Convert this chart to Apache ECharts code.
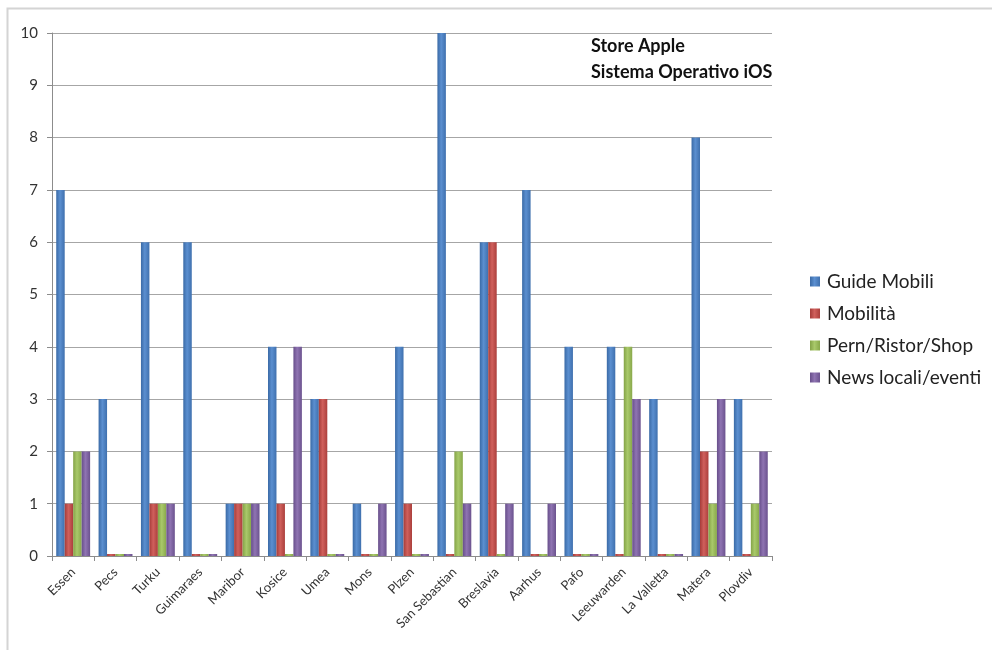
<!DOCTYPE html>
<html>
<head>
<meta charset="utf-8">
<script src="https://cdn.jsdelivr.net/npm/echarts@6/dist/echarts.min.js"></script>
<style>
  html, body { margin: 0; padding: 0; background: #fff; }
  #chart { width: 992px; height: 650px; }
</style>
</head>
<body>
<div id="chart"></div>
<script>
// Apps per city, iOS store
const cities = ['Essen', 'Pecs', 'Turku', 'Guimaraes', 'Maribor', 'Kosice', 'Umea', 'Mons', 'Plzen',
  'San Sebastian', 'Breslavia', 'Aarhus', 'Pafo', 'Leeuwarden', 'La Valletta', 'Matera', 'Plovdiv'];
const guideMobili   = [7, 3, 6, 6, 1, 4, 3, 1, 4, 10, 6, 7, 4, 4, 3, 8, 3];
const mobilita      = [1, 0, 1, 0, 1, 1, 3, 0, 1, 0, 6, 0, 0, 0, 0, 2, 0];
const pernRistor    = [2, 0, 1, 0, 1, 0, 0, 0, 0, 2, 0, 0, 0, 4, 0, 1, 1];
const newsLocali    = [2, 0, 1, 0, 1, 4, 0, 1, 0, 1, 1, 1, 0, 3, 0, 3, 2];
const seriesNames = ['Guide Mobili', 'Mobilità', 'Pern/Ristor/Shop', 'News locali/eventi'];
const yTicks = [0, 1, 2, 3, 4, 5, 6, 7, 8, 9, 10];

const palette = [
  ['#3a6aa6', '#5b8fd0', '#3f70ae'],
  ['#a63c39', '#d0605c', '#ab3f3c'],
  ['#84a347', '#a9c96a', '#88a84a'],
  ['#674e8a', '#8f74b2', '#6b528e']
];
function shade(c) {
  return new echarts.graphic.LinearGradient(0, 0, 1, 0, [
    { offset: 0, color: c[0] }, { offset: 0.45, color: c[1] }, { offset: 1, color: c[2] }
  ]);
}

const chart = echarts.init(document.getElementById('chart'), null, { renderer: 'canvas' });
const values = [guideMobili, mobilita, pernRistor, newsLocali];
const font = 'Lato, "Open Sans", sans-serif';

chart.setOption({
  animation: false,
  backgroundColor: '#ffffff',
  textStyle: { fontFamily: font },
  graphic: [
    { type: 'rect', shape: { x: 7.5, y: 8.5, width: 1000, height: 700 },
      style: { fill: 'none', stroke: '#d4d4d4', lineWidth: 2 }, silent: true },
    { type: 'text', left: 591, top: 33,
      style: { text: 'Store Apple\nSistema Operativo iOS', fill: '#111', lineHeight: 26,
        font: 'bold 18px ' + font } }
  ],
  legend: {
    orient: 'vertical',
    left: 805, top: 267,
    itemWidth: 10, itemHeight: 10, itemGap: 13,
    icon: 'rect',
    textStyle: { fontSize: 19, color: '#222', fontFamily: font, padding: [0, 0, 0, 2] },
    data: seriesNames
  },
  grid: { left: 52, right: 220, top: 33, bottom: 94 },
  xAxis: {
    type: 'category',
    data: cities,
    axisLine: { lineStyle: { color: '#8c8c8c' } },
    axisTick: { show: true, alignWithLabel: false, lineStyle: { color: '#8c8c8c' }, length: 5 },
    axisLabel: { rotate: 45, fontSize: 13, color: '#333', margin: 14, interval: 0 }
  },
  yAxis: {
    type: 'value',
    min: yTicks[0], max: yTicks[yTicks.length - 1], interval: 1,
    axisLine: { show: true, lineStyle: { color: '#8c8c8c' } },
    axisTick: { show: true, lineStyle: { color: '#8c8c8c' }, length: 5 },
    axisLabel: { fontSize: 15, color: '#333', margin: 14 },
    splitLine: { lineStyle: { color: '#a6a6a6', width: 1 } }
  },
  series: seriesNames.map((name, i) => ({
    name: name,
    type: 'bar',
    data: values[i],
    barGap: '0%',
    barCategoryGap: '20%',
    barMinHeight: 2,
    color: palette[i][1],
    itemStyle: { color: shade(palette[i]) }
  }))
});
</script>
</body>
</html>
